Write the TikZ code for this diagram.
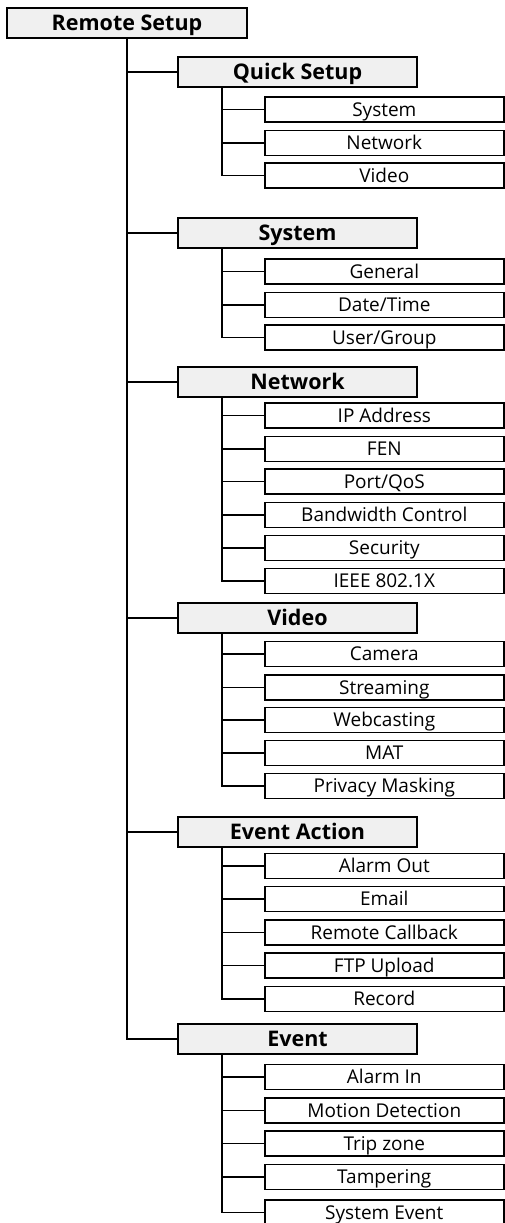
\documentclass[tikz,border=0pt]{standalone}
\usepackage{fontspec}
\setmainfont{Open Sans}
\usetikzlibrary{positioning,calc}
\definecolor{menugray}{rgb}{0.94, 0.94, 0.94}
\tikzset{branch/.style={line width=1.6pt}}
\tikzset{menubox/.style={draw, line width=1.6pt, fill=menugray,
    minimum width=239pt, minimum height=30pt, inner sep=0pt,
    text height=15.3pt, text depth=0pt,
    font=\fontsize{21.5}{21.5}\selectfont\bfseries}}
\tikzset{itembox/.style={draw, line width=1.6pt, fill=white, anchor=west,
    minimum width=239pt, minimum height=25pt, inner sep=0pt,
    text height=13.5pt, text depth=0pt,
    font=\fontsize{19}{19}\selectfont}}

\begin{document}
\begin{tikzpicture}[x=1pt, y=-1pt]
        \useasboundingbox (0,0) rectangle (504,1223); %
        \node[menubox, minimum width=240pt] (root) at (127,23) {Remote Setup}; %
        % second level menus
        \node[menubox] (quick) at (297.5,72) {Quick Setup}; %
        \node[menubox] (system) at (297.5,233) {System}; %
        \node[menubox] (network) at (297.5,382) {Network}; %
        \node[menubox] (video) at (297.5,618) {Video}; %
        \node[menubox] (action) at (297.5,832) {Event Action}; %
        \node[menubox] (event) at (297.5,1039) {Event}; %
        \foreach \grp in {quick,system,network,video,action,event}
          \draw[branch] (root.south) |- (\grp.west); %
        % third level items
        \foreach \txt/\yy [count=\i] in {System/109.5, Network/143, Video/175.5} {
          \node[itembox] (quick\i) at (264,\yy) {\txt}; %
          \draw[branch] ([xshift=45pt]quick.south west) |- (quick\i.west); }
        \foreach \txt/\yy [count=\i] in {General/271.5, {Date/Time}/305, {User/Group}/337.5} {
          \node[itembox] (system\i) at (264,\yy) {\txt}; %
          \draw[branch] ([xshift=45pt]system.south west) |- (system\i.west); }
        \foreach \txt/\yy [count=\i] in {IP Address/415.5, FEN/449, {Port/QoS}/481.5,
            Bandwidth Control/515, Security/548, IEEE 802.1X/581} {
          \node[itembox] (network\i) at (264,\yy) {\txt}; %
          \draw[branch] ([xshift=45pt]network.south west) |- (network\i.west); }
        \foreach \txt/\yy [count=\i] in {Camera/654, Streaming/687.5, Webcasting/720,
            MAT/753, Privacy Masking/786} {
          \node[itembox] (video\i) at (264,\yy) {\txt}; %
          \draw[branch] ([xshift=45pt]video.south west) |- (video\i.west); }
        \foreach \txt/\yy [count=\i] in {Alarm Out/866, Email/899, Remote Callback/932.5,
            FTP Upload/965.5, Record/999} {
          \node[itembox] (action\i) at (264,\yy) {\txt}; %
          \draw[branch] ([xshift=45pt]action.south west) |- (action\i.west); }
        \foreach \txt/\yy [count=\i] in {Alarm In/1077, Motion Detection/1110.5,
            Trip zone/1143.5, Tampering/1177, System Event/1212.5} {
          \node[itembox] (event\i) at (264,\yy) {\txt}; %
          \draw[branch] ([xshift=45pt]event.south west) |- (event\i.west); }
      \end{tikzpicture}
\end{document}
